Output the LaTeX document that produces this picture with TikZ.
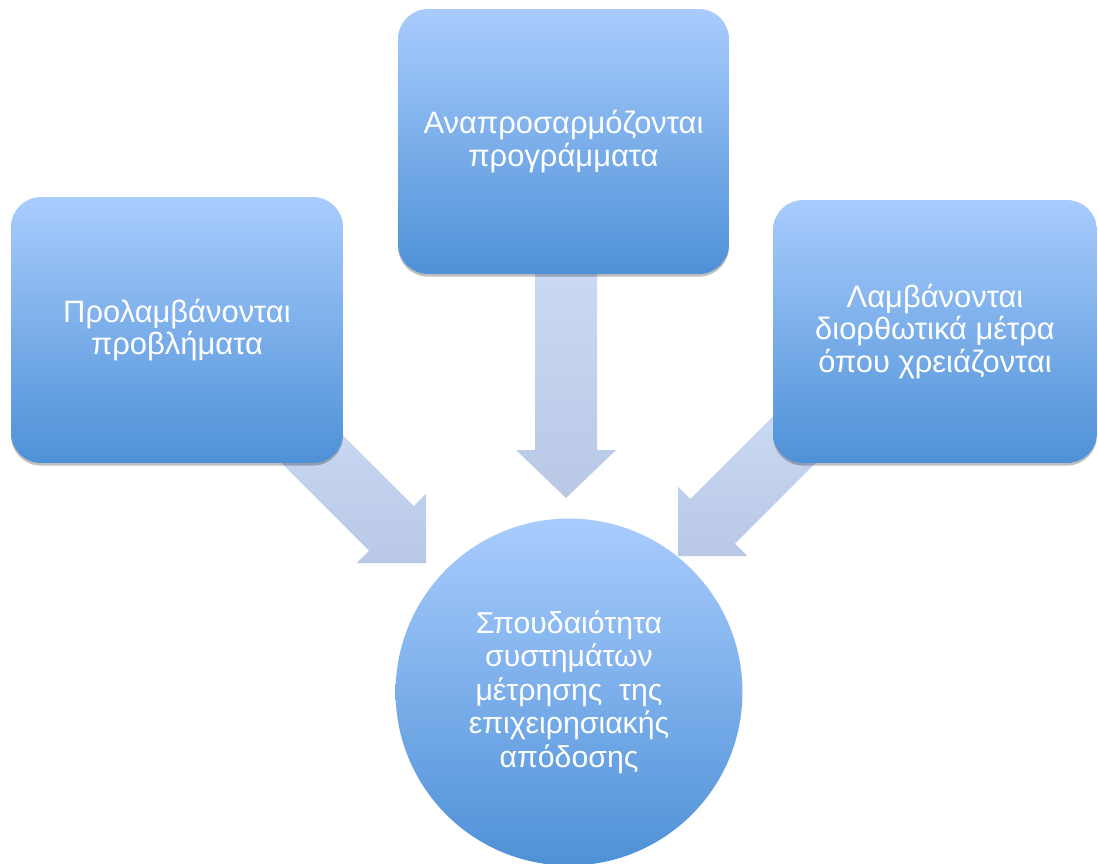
\documentclass[tikz,border=0pt]{standalone}
\usepackage{fontspec}
\setmainfont{Liberation Sans}
\usetikzlibrary{shadows}

\definecolor{boxtop}{RGB}{169,204,253}
\definecolor{boxbottom}{RGB}{78,145,215}
\definecolor{arrowtop}{RGB}{202,218,244}
\definecolor{arrowbottom}{RGB}{184,200,229}

\tikzset{
  blockarrow/.style={top color=arrowtop, bottom color=arrowbottom, draw=none},
  stepbox/.style={rectangle, rounded corners=0.6cm, top color=boxtop, bottom color=boxbottom,
    draw=none, text=white, align=center,
    font=\fontsize{17.6}{18.6}\selectfont,
    drop shadow={shadow xshift=0pt, shadow yshift=-1.5pt, opacity=0.25, fill=black}},
  hub/.style={circle, top color=boxtop, bottom color=boxbottom, draw=none,
    text=white, align=center, inner sep=0pt,
    font=\fontsize{17.2}{19.0}\selectfont}
}

\begin{document}
\begin{tikzpicture}[x=0.02cm, y=-0.02cm]
  \useasboundingbox (0,0) rectangle (1098,863);

  % block arrows pointing at the central circle (drawn first, boxes overlap their tails)
  \path[blockarrow] (277.7,459.3) -- (369.1,550.7) -- (356.7,563) -- (426,563)
        -- (426,493.7) -- (413.7,506.1) -- (322.3,414.7) -- cycle;
  \path[blockarrow] (535,265) -- (535,450) -- (516,450) -- (566,498)
        -- (616,450) -- (597,450) -- (597,265) -- cycle;
  \path[blockarrow] (777.7,411.7) -- (690.35,499.05) -- (678,486.7) -- (678,556)
        -- (747.3,556) -- (734.95,543.65) -- (822.3,456.3) -- cycle;

  % outer boxes
  \node[stepbox, minimum width=6.64cm, minimum height=5.32cm] (left) at (177,330)
    {Προλαμβάνονται\\προβλήματα};
  \node[stepbox, minimum width=6.62cm, minimum height=5.30cm] (top) at (563.5,141.5)
    {Αναπροσαρμόζονται\\προγράμματα};
  \node[stepbox, minimum width=6.48cm, minimum height=5.26cm] (right) at (935,331.5)
    {Λαμβάνονται\\διορθωτικά μέτρα\\όπου χρειάζονται};

  % central circle
  \node[hub, minimum size=6.94cm] (centre) at (569,692)
    {Σπουδαιότητα\\συστημάτων\\μέτρησης\ \ της\\επιχειρησιακής\\απόδοσης};
\end{tikzpicture}
\end{document}
